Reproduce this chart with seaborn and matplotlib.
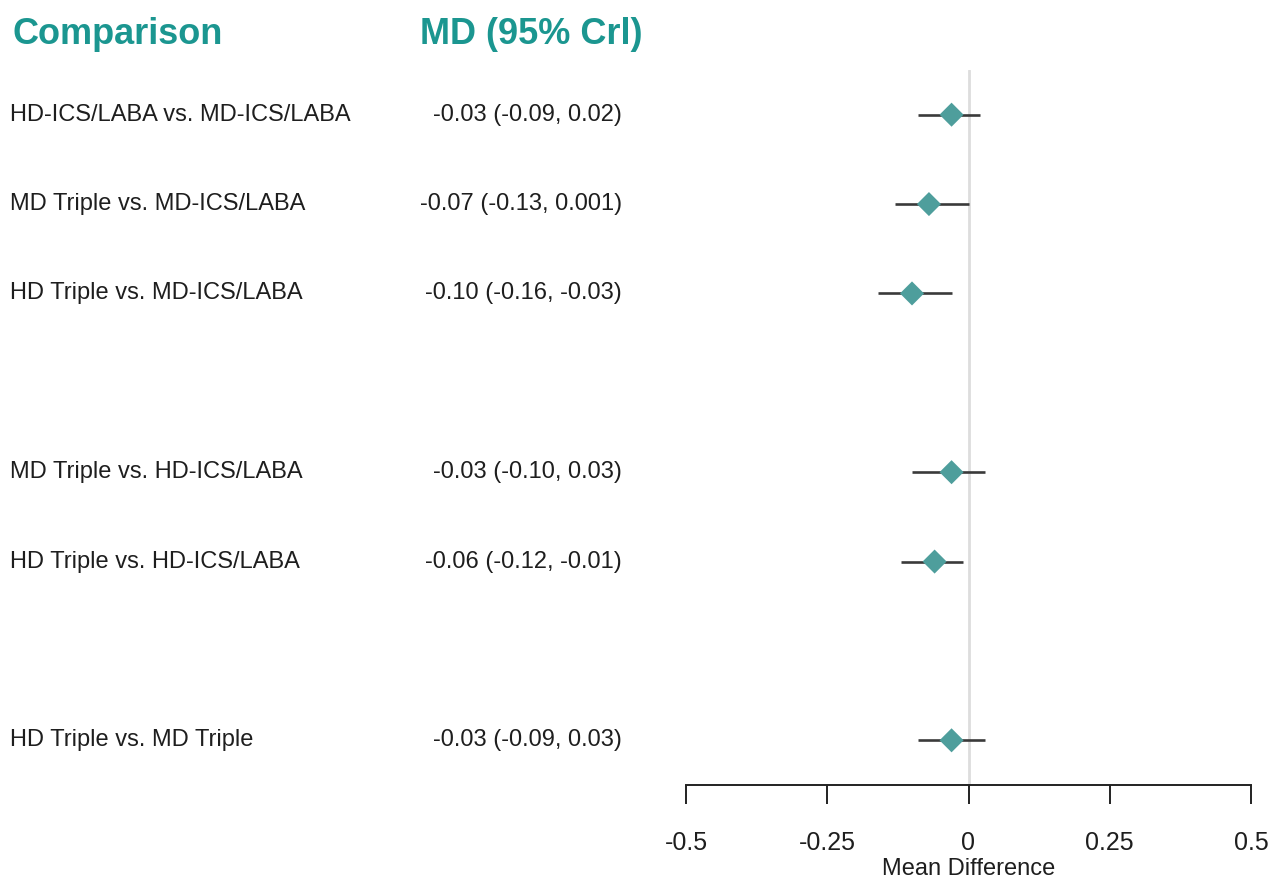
import matplotlib.pyplot as plt
import matplotlib.transforms as mtransforms
from matplotlib import font_manager
import seaborn as sns
import pandas as pd

# comparisons, point estimates and credible intervals
comparisons = ['HD-ICS/LABA vs. MD-ICS/LABA', 'MD Triple vs. MD-ICS/LABA',
               'HD Triple vs. MD-ICS/LABA', 'MD Triple vs. HD-ICS/LABA',
               'HD Triple vs. HD-ICS/LABA', 'HD Triple vs. MD Triple']
md = [-0.03, -0.07, -0.10, -0.03, -0.06, -0.03]
lower = [-0.09, -0.13, -0.16, -0.10, -0.12, -0.09]
upper = [0.02, 0.001, -0.03, 0.03, -0.01, 0.03]
labels = ['-0.03 (-0.09, 0.02)', '-0.07 (-0.13, 0.001)', '-0.10 (-0.16, -0.03)',
          '-0.03 (-0.10, 0.03)', '-0.06 (-0.12, -0.01)', '-0.03 (-0.09, 0.03)']
rows = [0, 1, 2, 4, 5, 7]  # blank rows between groups
xticks = [-0.5, -0.25, 0, 0.25, 0.5]
xticklabels = ['-0.5', '-0.25', '0', '0.25', '0.5']

df = pd.DataFrame({'comparison': comparisons, 'md': md, 'lo': lower,
                   'hi': upper, 'row': rows})

sns.set_style('white')
names = {f.name for f in font_manager.fontManager.ttflist}
if 'Liberation Sans Narrow' in names:
    fam, fs = 'Liberation Sans Narrow', 20.5
else:
    fam, fs = 'Liberation Sans', 17
plt.rcParams['font.family'] = [fam, 'DejaVu Sans']
plt.rcParams['text.color'] = '#1e1e1e'
plt.rcParams['xtick.color'] = '#1e1e1e'
plt.rcParams['axes.labelcolor'] = '#1e1e1e'

teal = '#1b9690'
fig = plt.figure(figsize=(12.77, 8.94), dpi=100)
ax = fig.add_axes([686 / 1277, 109 / 894, 565 / 1277, 715 / 894])

ax.axvline(0, color='#dddddd', lw=2, zorder=0)
ax.hlines(df['row'], df['lo'], df['hi'], color='#3a3a3a', lw=1.9, zorder=1)
sns.scatterplot(data=df, x='md', y='row', marker='D', s=150, color='#4e9e9c',
                edgecolor='none', ax=ax, zorder=2)

ax.set_xlim(-0.5, 0.5)
ax.set_ylim(7.5, -0.5)
ax.set_yticks([])
ax.set_ylabel('')
ax.set_xticks(xticks)
ax.set_xticklabels(xticklabels)
ax.set_xlabel('Mean Difference', fontsize=17, labelpad=2)
for s in ['top', 'right', 'left']:
    ax.spines[s].set_visible(False)
ax.spines['bottom'].set_color('#222222')
ax.spines['bottom'].set_linewidth(1.4)
ax.tick_params(axis='x', bottom=True, direction='out', length=14, width=1.4,
               color='#222222', labelsize=18, pad=19)

# text columns
tr = mtransforms.blended_transform_factory(fig.transFigure, ax.transData)
for _, r in df.iterrows():
    ax.text(10 / 1277, r['row'], r['comparison'], transform=tr, ha='left',
            va='center', fontsize=fs, clip_on=False)
for lab, r in zip(labels, rows):
    ax.text(622 / 1277, r, lab, transform=tr, ha='right', va='center',
            fontsize=fs, clip_on=False)

fig.text(12 / 1277, 1 - 34 / 894, 'Comparison', color=teal, fontsize=26,
         fontweight='bold', ha='left', va='center', family=['Liberation Sans', 'DejaVu Sans'])
fig.text(420 / 1277, 1 - 34 / 894, 'MD (95% Crl)', color=teal, fontsize=26,
         fontweight='bold', ha='left', va='center', family=['Liberation Sans', 'DejaVu Sans'])

fig.savefig('out.png', dpi=100)
